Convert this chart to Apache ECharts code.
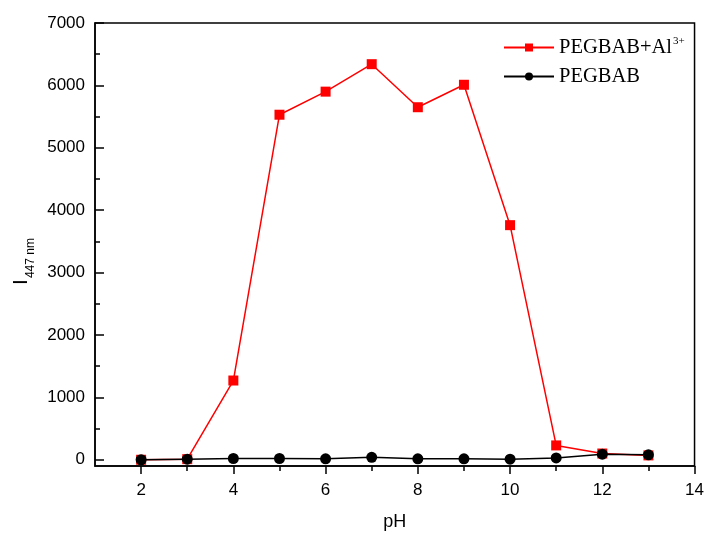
<!DOCTYPE html>
<html><head><meta charset="utf-8">
<script src="https://cdn.jsdelivr.net/npm/echarts@6/dist/echarts.min.js"></script>
<style>html,body{margin:0;padding:0;background:#fff}#c{width:707px;height:536px}</style>
</head><body><div id="c"></div>
<script>
const pH = [2,3,4,5,6,7,8,9,10,11,12,13];
const withAl = [0,10,1270,5530,5900,6340,5650,6010,3760,230,100,70];
const probe = [0,10,20,20,15,40,15,15,10,30,90,80];
const xTicks = [2,4,6,8,10,12,14];
const xMinor = [3,5,7,9,11,13];
const yTicks = [0,1000,2000,3000,4000,5000,6000,7000];
const yMinor = [500,1500,2500,3500,4500,5500,6500];

const chart = echarts.init(document.getElementById('c'));
const toPairs = (xs, ys) => xs.map((x,i)=>[x, ys[i]]);
const X0 = 1, X1 = 14, Y0 = -100, Y1 = 7000;
const lineBlk = {color:'#000',width:1.5};
chart.setOption({
  animation:false,
  grid:{left:95,right:10,top:23,bottom:69,show:true,borderColor:'#000',borderWidth:1.5,containLabel:false},
  legend:{
    left:498,top:31,orient:'vertical',itemGap:8,itemWidth:50,itemHeight:10,
    data:['PEGBAB+Al3+','PEGBAB'],
    formatter:n=>n==='PEGBAB+Al3+'?'PEGBAB+Al{sup|3+}':n,
    textStyle:{fontFamily:'Liberation Serif',fontSize:20.5,color:'#000',
      rich:{sup:{fontFamily:'Liberation Serif',fontSize:11,color:'#000',verticalAlign:'top',padding:[0,0,12,1]}}}
  },
  xAxis:[{
    type:'value',min:X0,max:X1,
    name:'pH',nameLocation:'middle',nameGap:47,
    nameTextStyle:{fontFamily:'Liberation Sans',fontSize:18,color:'#000'},
    axisLine:{onZero:false,lineStyle:lineBlk},
    axisTick:{show:true,inside:false,length:8,customValues:xTicks,lineStyle:lineBlk},
    axisLabel:{customValues:xTicks,formatter:v=>String(v),fontFamily:'Liberation Sans',fontSize:17,color:'#000',margin:16},
    splitLine:{show:false}
  },{
    type:'value',min:X0,max:X1,position:'bottom',
    axisLine:{show:false,onZero:false},
    axisTick:{show:true,inside:false,length:5,customValues:xMinor,lineStyle:lineBlk},
    axisLabel:{show:false},splitLine:{show:false}
  }],
  yAxis:[{
    type:'value',min:Y0,max:Y1,
    name:'{a|I}{b|447 nm}',nameLocation:'middle',nameGap:57,
    nameTextStyle:{color:'#000',padding:[0,34,0,0],rich:{
      a:{fontFamily:'Liberation Sans',fontSize:21,color:'#000'},
      b:{fontFamily:'Liberation Sans',fontSize:12,color:'#000',verticalAlign:'bottom',padding:[18,0,0,1]}}},
    axisLine:{onZero:false,lineStyle:lineBlk},
    axisTick:{show:true,inside:true,length:9,customValues:yTicks,lineStyle:lineBlk},
    axisLabel:{customValues:yTicks,formatter:v=>String(v),fontFamily:'Liberation Sans',fontSize:17,color:'#000',margin:10},
    splitLine:{show:false}
  },{
    type:'value',min:Y0,max:Y1,position:'left',
    axisLine:{show:false,onZero:false},
    axisTick:{show:true,inside:true,length:5,customValues:yMinor,lineStyle:lineBlk},
    axisLabel:{show:false},splitLine:{show:false}
  }],
  series:[
    {name:'PEGBAB+Al3+',type:'line',data:toPairs(pH,withAl),symbol:'rect',symbolSize:10,
     lineStyle:{color:'#ff0000',width:1.5},itemStyle:{color:'#ff0000'},z:2},
    {name:'PEGBAB',type:'line',data:toPairs(pH,probe),symbol:'circle',symbolSize:11,
     lineStyle:{color:'#000',width:1.5},itemStyle:{color:'#000'},z:3}
  ]
});
</script></body></html>
